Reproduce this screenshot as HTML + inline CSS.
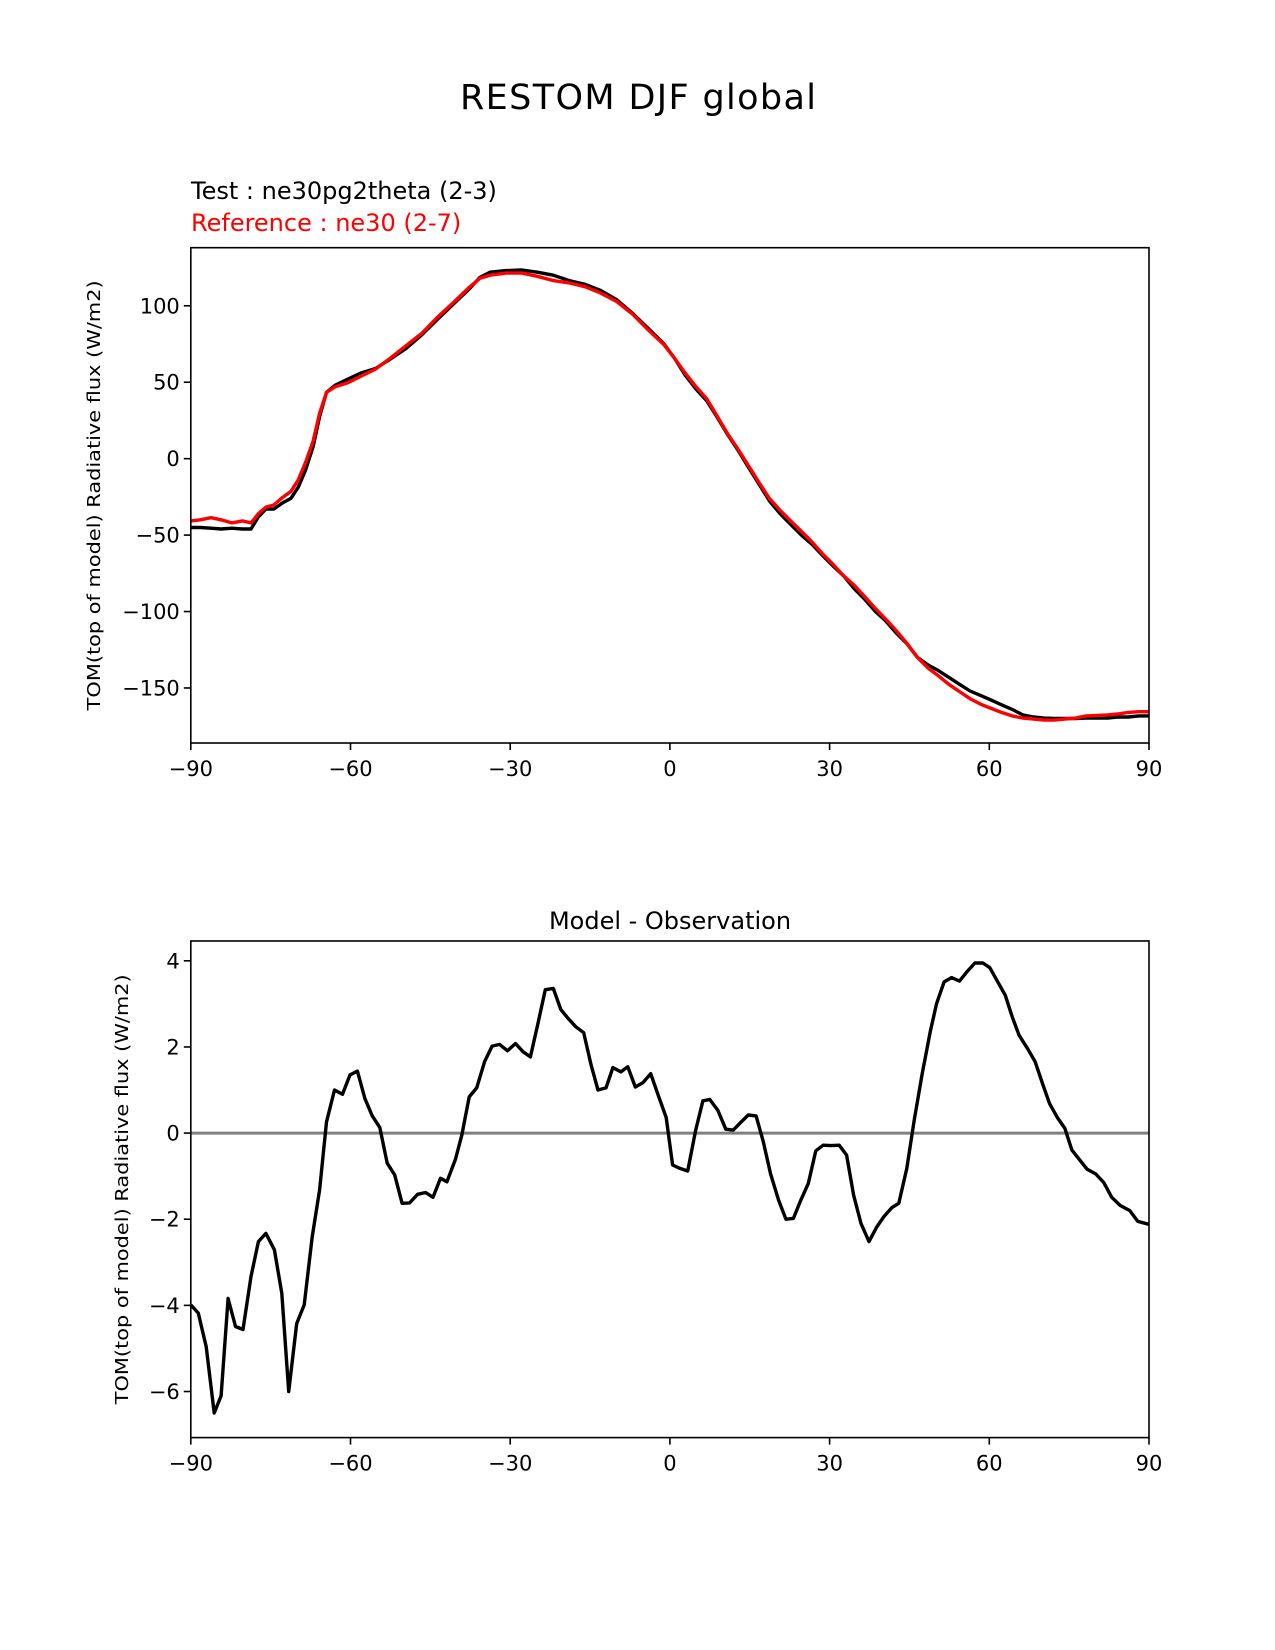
<!DOCTYPE html>
<html><head><meta charset="utf-8"><style>
html,body{margin:0;padding:0;background:#fff;}
svg{display:block;font-family:"DejaVu Sans","Liberation Sans",sans-serif;}
</style></head><body>
<svg id="fig" width="1275" height="1650" viewBox="0 0 1275 1650">
<text x="638" y="109" font-size="35" text-anchor="middle" textLength="356">RESTOM DJF global</text>
<text x="191" y="199" font-size="24">Test : ne30pg2theta (2-3)</text>
<text x="191" y="231" font-size="24" fill="#ff0000">Reference : ne30 (2-7)</text>
<text x="670" y="929" font-size="24" text-anchor="middle">Model - Observation</text>
<g id="top"></g>
<g id="bot"></g>
</svg>
<script>
const topLats = [-90,-88.2,-86.2,-84.3,-82.3,-80.3,-78.7,-77.3,-75.9,-74.4,-72.8,-71.2,-69.8,-68.4,-67.0,-65.8,-64.5,-62.9,-60.5,-58.1,-55.3,-52.6,-49.6,-46.6,-43.7,-40.7,-37.7,-35.7,-33.8,-30.8,-27.8,-24.9,-21.9,-18.9,-15.9,-13.0,-10.0,-7.0,-4.0,-1.1,0.9,
2.9,4.9,6.9,8.8,10.8,12.8,14.8,16.8,18.7,20.7,22.7,24.7,26.7,28.6,30.6,32.6,34.6,36.6,38.6,40.5,42.5,44.5,46.5,48.5,50.4,52.4,54.4,56.4,58.4,60.4,62.3,64.3,66.3,68.3,70.3,72.2,74.2,76.2,78.2,80.2,82.2,84.1,86.1,88.1,90];
const testValues = [-45,-45,-45.5,-46,-45.5,-46,-46,-38,-33,-33,-29,-26,-18.6,-7,8,27.6,43.4,48,52,56,59,65,72,81,91,101,111,118.6,122,123,123.4,122,120,116.5,114,110,104,95,85,75,65.5,
54.5,45.5,38,27.6,16,5.5,-6,-17,-27.6,-36,-43,-50,-56,-63,-70,-76.5,-85,-92,-100,-106,-114,-121,-130,-135,-138.6,-143,-147.6,-152,-155,-158,-161,-164,-167.6,-169,-169.7,-170,-170,-170,-169.7,-169.7,-169.7,-169,-169,-168.3,-168.3];
const refValues = [-40.7,-40,-38.6,-40,-42,-40.7,-42,-36,-31.7,-30.3,-25.5,-21.4,-13.8,-2,11.7,29.7,43.4,47,49.7,53.8,58.6,65.5,73.8,82,92.4,102,112,118,120,121.4,121.4,119.3,116.5,115,112.4,108.3,102.8,94.5,84,74.5,65.5,
55.9,47,39.3,28.3,16.5,6.2,-4.8,-15.9,-26,-33.8,-40.7,-47.6,-54.5,-62,-69,-76.5,-82.8,-90.3,-98,-104.8,-112.4,-120.7,-130,-137,-142,-147.6,-152.4,-157,-160.7,-163.4,-166,-168.3,-169.7,-170.3,-171,-171,-170.3,-169.7,-168.3,-168,-167.6,-167,-166,-165.5,-165.5];
const diffLats = [-90,-88.6,-87.1,-85.6,-84.3,-83.0,-81.6,-80.2,-78.7,-77.3,-75.9,-74.3,-72.9,-71.6,-70.1,-68.7,-67.2,-65.8,-64.5,-63.0,-61.5,-60.1,-58.7,-57.3,-55.9,-54.5,-53.1,-51.7,-50.3,-48.9,-47.4,-45.9,-44.5,-43.1,-41.9,-40.3,-39.1,-37.7,-36.3,-34.8,-33.4,-32.0,-30.5,-29.0,-27.6,-26.2,-24.8,-23.4,-21.9,-20.5,-19.1,-17.7,-16.2,-14.8,-13.5,-12.0,-10.7,-9.2,-7.9,-6.5,-5.1,-3.6,-2.2,-0.7,0.5,1.9,3.35,4.85,6.2,7.5,9.0,10.5,11.9,13.4,14.7,16.2,17.55,18.9,20.4,21.8,23.2,24.6,26.0,27.4,28.8,30.3,31.8,33.2,34.5,35.9,37.4,38.9,40.2,41.7,43.0,44.5,45.9,47.4,48.9,50.1,51.5,52.9,54.4,55.9,57.3,58.8,60.1,61.4,63.0,64.3,65.6,67.2,68.6,70.0,71.3,72.8,74.2,75.5,76.9,78.4,80.0,81.5,83.0,84.6,86.4,87.9,90];
const diffValues = [-3.99,-4.18,-4.96,-6.5,-6.1,-3.84,-4.49,-4.56,-3.33,-2.52,-2.33,-2.71,-3.72,-6.0,-4.42,-3.99,-2.41,-1.32,0.26,1.0,0.9,1.35,1.44,0.80,0.40,0.13,-0.70,-0.97,-1.63,-1.62,-1.42,-1.38,-1.49,-1.05,-1.13,-0.61,-0.05,0.84,1.05,1.66,2.02,2.06,1.91,2.08,1.89,1.77,2.54,3.33,3.36,2.87,2.66,2.47,2.33,1.58,1.0,1.05,1.52,1.42,1.54,1.07,1.17,1.38,0.88,0.36,-0.74,-0.82,-0.88,0.07,0.75,0.78,0.53,0.09,0.07,0.26,0.42,0.40,-0.20,-0.94,-1.55,-2.0,-1.98,-1.55,-1.17,-0.41,-0.28,-0.29,-0.28,-0.51,-1.44,-2.1,-2.52,-2.17,-1.94,-1.73,-1.63,-0.82,0.30,1.38,2.35,3.01,3.51,3.61,3.53,3.76,3.95,3.95,3.84,3.55,3.20,2.70,2.27,1.96,1.66,1.15,0.69,0.36,0.11,-0.39,-0.61,-0.84,-0.95,-1.15,-1.49,-1.68,-1.80,-2.05,-2.12];
const xTicks = [-90,-60,-30,0,30,60,90];
const xTickLabels = ["\u221290","\u221260","\u221230","0","30","60","90"];
const topYTicks = [-150,-100,-50,0,50,100];
const topYTickLabels = ["\u2212150","\u2212100","\u221250","0","50","100"];
const botYTicks = [-6,-4,-2,0,2,4];
const botYTickLabels = ["\u22126","\u22124","\u22122","0","2","4"];

const NS="http://www.w3.org/2000/svg";
function mk(parent,tag,attrs){const e=document.createElementNS(NS,tag);for(const k in attrs)e.setAttribute(k,attrs[k]);parent.appendChild(e);return e;}
const L=190.8,R=1149;
function xs(v){return L+(v+90)/180*(R-L);}

function drawAxes(g,T,B,y0,y1,yt,ytl,ylabelX,name){
  const ys=v=>B-(v-y0)/(y1-y0)*(B-T);
  xTicks.forEach((t,i)=>{
    const tk=mk(g,'line',{x1:xs(t),x2:xs(t),y1:B,y2:B+7,stroke:'#000','stroke-width':1.6});
    
    
    const tx=mk(g,'text',{x:xs(t),y:B+33,'font-size':21,'text-anchor':'middle'});
    tx.textContent=xTickLabels[i];
    
    
  });
  yt.forEach((t,i)=>{
    const tk=mk(g,'line',{x1:L-7,x2:L,y1:ys(t),y2:ys(t),stroke:'#000','stroke-width':1.6});
    
    
    const tx=mk(g,'text',{x:L-11,y:ys(t)+7.5,'font-size':21,'text-anchor':'end'});
    tx.textContent=ytl[i];
    
    
  });
  const yl=mk(g,'text',{x:0,y:0,'font-size':18,'text-anchor':'middle',textLength:430,lengthAdjust:'spacingAndGlyphs',transform:`translate(${ylabelX},${(T+B)/2}) rotate(-90)`});
  yl.textContent='TOM(top of model) Radiative flux (W/m2)';
  
  
  return ys;
}
function line(g,lats,vals,ys,color,w,name){
  const d=lats.map((la,i)=>(i?'L':'M')+xs(la).toFixed(1)+','+ys(vals[i]).toFixed(1)).join('');
  const p=mk(g,'path',{d:d,fill:'none',stroke:color,'stroke-width':w,'stroke-linejoin':'round'});
  
  
}
function frame(g,T,B,name){
  const r=mk(g,'rect',{x:L,y:T,width:R-L,height:B-T,fill:'none',stroke:'#000','stroke-width':1.6});
  
  
}
const gt=document.getElementById('top');
const ysT=drawAxes(gt,247.7,743,-186,138,topYTicks,topYTickLabels,100,'top');
line(gt,topLats,testValues,ysT,'#000',3.4,'test-series-line');
line(gt,topLats,refValues,ysT,'#ff0000',3.4,'reference-series-line');
frame(gt,247.7,743,'top');
const gb=document.getElementById('bot');
const ysB=drawAxes(gb,941,1437.6,-7.07,4.46,botYTicks,botYTickLabels,128,'bottom');
const z=mk(gb,'line',{x1:L,x2:R,y1:ysB(0),y2:ysB(0),stroke:'#808080','stroke-width':3});


line(gb,diffLats,diffValues,ysB,'#000',3.4,'difference-series-line');
frame(gb,941,1437.6,'bottom');
</script>
</body></html>
